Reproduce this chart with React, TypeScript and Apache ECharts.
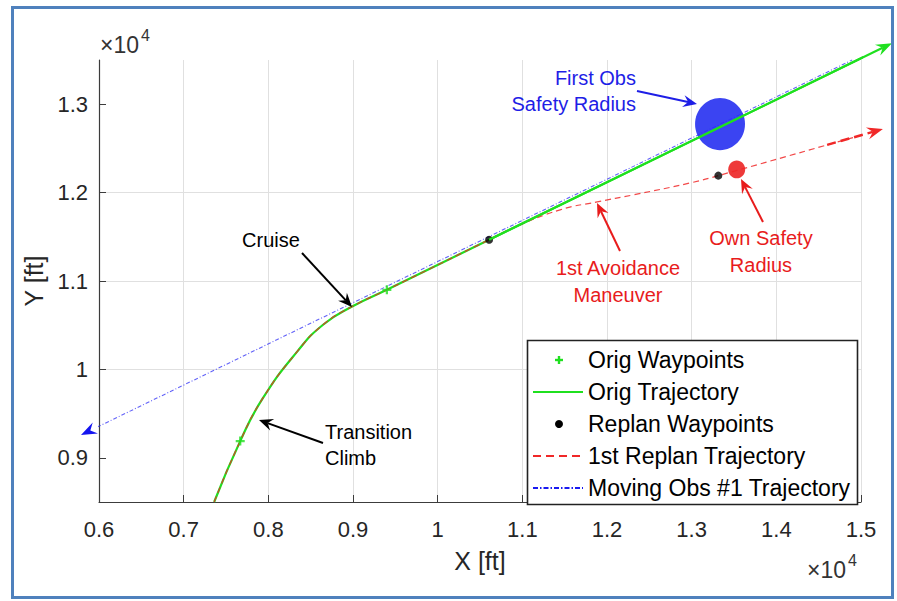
import React, { useEffect, useRef } from "react";
import * as echarts from "echarts";

const W = 897;
const H = 601;

// Flight paths in feet: [x, y]
const origTrajectory: [number, number][] = [
  [7360, 8500], [7668, 9189], [7928, 9663], [8343, 10204], [8650, 10508],
  [8990, 10711], [9400, 10900], [10608, 11467], [15366, 13690],
];
const replanTrajectory: [number, number][] = [
  [7360, 8500], [7668, 9189], [7928, 9663], [8343, 10204], [8650, 10508],
  [8990, 10711], [9400, 10900], [10608, 11467], [10915, 11610], [11447, 11805],
  [11884, 11895], [12309, 11974], [12982, 12109], [13315, 12192], [15259, 12719],
];
const movingObsTrajectory: [number, number][] = [
  [5787, 9258], [14896, 13500],
];
const origWaypoints: [number, number][] = [[7668, 9189], [9400, 10900]];
const replanWaypoints: [number, number][] = [[10608, 11467], [13315, 12192]];
// [centre x, centre y, radius] in feet
const firstObsSafety: [number, number, number][] = [[13335, 12775, 295]];
const ownSafety: [number, number, number][] = [[13532, 12262, 100]];

const yTicks = [9000, 10000, 11000, 12000, 13000];

const FONT = "'Liberation Sans', Arial, Helvetica, sans-serif";
const AX = "#262626";
const GREEN = "#1fe01f";
const RED = "#f02828";
const BLUE = "#2f2ff5";
const BLUE_TXT = "#1e1ee6";
const RED_TXT = "#e81c1c";

const legendItems = [
  { label: "Orig Waypoints", kind: "plus" },
  { label: "Orig Trajectory", kind: "solid" },
  { label: "Replan Waypoints", kind: "dot" },
  { label: "1st Replan Trajectory", kind: "dash" },
  { label: "Moving Obs #1 Trajectory", kind: "dashdot" },
];

const annotations = [
  { lines: ["First Obs", "Safety Radius"], x: 636, y: [78, 104], align: "right", color: BLUE_TXT, tail: [637, 91], tip: [697, 104] },
  { lines: ["Own Safety", "Radius"], x: 761, y: [238, 265], align: "center", color: RED_TXT, tail: [763, 222], tip: [741, 179] },
  { lines: ["1st Avoidance", "Maneuver"], x: 618, y: [268, 295], align: "center", color: RED_TXT, tail: [620, 251], tip: [597, 203] },
  { lines: ["Cruise"], x: 271, y: [240], align: "center", color: "#000", tail: [302, 253], tip: [352, 307] },
  { lines: ["Transition", "Climb"], x: 325, y: [432, 458], align: "left", color: "#000", tail: [323, 443], tip: [259, 420] },
];

const tickText = (v: number) => String(parseFloat((v / 1e4).toFixed(2)));

function textEl(text: string, x: number, y: number, size: number, color: string, align = "left", vAlign = "middle") {
  return {
    type: "text",
    z: 120,
    style: {
      text, x, y, fill: color,
      font: `${size}px ${FONT}`,
      align, textAlign: align,
      verticalAlign: vAlign, textVerticalAlign: vAlign,
    },
  };
}

function head(tail: number[], tip: number[], color: string, len = 14, half = 6) {
  const dx = tip[0] - tail[0];
  const dy = tip[1] - tail[1];
  const L = Math.hypot(dx, dy) || 1;
  const ux = dx / L, uy = dy / L;
  const nx = -uy, ny = ux;
  const notch = [tip[0] - ux * len * 0.65, tip[1] - uy * len * 0.65];
  const b1 = [tip[0] - ux * len + nx * half, tip[1] - uy * len + ny * half];
  const b2 = [tip[0] - ux * len - nx * half, tip[1] - uy * len - ny * half];
  return {
    notch,
    el: { type: "polygon", z: 110, shape: { points: [tip, b1, notch, b2] }, style: { fill: color } },
  };
}

function arrow(tail: number[], tip: number[], color: string, width = 2) {
  const h = head(tail, tip, color);
  return [
    { type: "line", z: 110, shape: { x1: tail[0], y1: tail[1], x2: h.notch[0], y2: h.notch[1] }, style: { stroke: color, lineWidth: width } },
    h.el,
  ];
}

const circleItem = (params: any, api: any) => {
  const c = api.coord([api.value(0), api.value(1)]);
  const r = api.value(2);
  const s = api.size([r, r]);
  return {
    type: "ellipse",
    shape: { cx: c[0], cy: c[1], rx: s[0], ry: s[1] },
    style: { fill: api.visual("color") },
  };
};

const option: any = {
  animation: false,
  backgroundColor: "#ffffff",
  grid: { left: 99, top: 60, width: 762, height: 442, containLabel: false },
  xAxis: {
    type: "value",
    min: 6000,
    max: 15000,
    interval: 1000,
    name: "X [ft]",
    nameLocation: "middle",
    nameGap: 46,
    nameTextStyle: { fontFamily: FONT, fontSize: 25, color: AX },
    axisLine: { show: true, onZero: false, lineStyle: { color: "#3c3c3c", width: 1.2 } },
    axisTick: { show: true, inside: true, length: 7, lineStyle: { color: "#3c3c3c" } },
    axisLabel: { formatter: tickText, fontFamily: FONT, fontSize: 22, color: AX, margin: 16 },
    splitLine: { show: true, lineStyle: { color: "#e0e0e0", width: 1 } },
  },
  yAxis: {
    type: "value",
    min: 8500,
    max: 13500,
    splitNumber: 5,
    name: "Y [ft]",
    nameLocation: "middle",
    nameRotate: 90,
    nameGap: 48,
    nameTextStyle: { fontFamily: FONT, fontSize: 25, color: AX },
    axisLine: { show: true, onZero: false, lineStyle: { color: "#3c3c3c", width: 1.2 } },
    axisTick: { show: true, inside: true, length: 7, customValues: yTicks, lineStyle: { color: "#3c3c3c" } },
    axisLabel: {
      customValues: yTicks,
      formatter: (v: number) => (v % 1000 === 0 ? tickText(v) : ""),
      fontFamily: FONT, fontSize: 22, color: AX, margin: 11,
    },
    splitLine: { show: true, showMinLine: false, showMaxLine: false, lineStyle: { color: "#e0e0e0", width: 1 } },
  },
  series: [
    {
      name: "First Obs Safety Radius", type: "custom", data: firstObsSafety,
      renderItem: circleItem, itemStyle: { color: "#3b44f2" }, z: 1, clip: false,
    },
    {
      name: "Own Safety Radius", type: "custom", data: ownSafety,
      renderItem: circleItem, itemStyle: { color: "#ee3a3a" }, z: 1, clip: false,
    },
    {
      name: "Orig Trajectory", type: "line", data: origTrajectory, showSymbol: false, symbol: "none",
      smooth: 0.5, clip: false, z: 3,
      lineStyle: { color: GREEN, width: 2.2 },
    },
    {
      name: "1st Replan Trajectory", type: "line", data: replanTrajectory, showSymbol: false, symbol: "none",
      smooth: 0.5, clip: false, z: 4,
      lineStyle: { color: RED, width: 1.2, type: [6, 4], opacity: 0.85 },
    },
    {
      name: "Moving Obs #1 Trajectory", type: "line", data: movingObsTrajectory, showSymbol: false, symbol: "none",
      clip: false, z: 5,
      lineStyle: { color: BLUE, width: 1.1, type: [4, 2, 1, 2], opacity: 0.75 },
    },
    {
      name: "Orig Waypoints", type: "scatter", data: origWaypoints, z: 6,
      symbol: "path://M3,0H5V3H8V5H5V8H3V5H0V3H3Z", symbolSize: 9,
      itemStyle: { color: GREEN },
    },
    {
      name: "Replan Waypoints", type: "scatter", data: replanWaypoints, z: 7,
      symbol: "circle", symbolSize: 8, itemStyle: { color: "#000" },
    },
  ],
};

export default function App() {
  const ref = useRef<HTMLDivElement>(null);

  useEffect(() => {
    const el = ref.current;
    if (!el) return;
    const chart = echarts.init(el, undefined, { renderer: "svg", width: W, height: H });
    chart.setOption(option);

    const px = (p: number[]) => chart.convertToPixel({ gridIndex: 0 }, p) as number[];
    const g: any[] = [];

    // outer frame
    g.push({ type: "rect", z: 130, shape: { x: 12.5, y: 7.5, width: 880, height: 590 }, style: { fill: "none", stroke: "#4f81bd", lineWidth: 3 } });

    // green path continues past the axes into its arrow head
    const o = origTrajectory;
    const gTip = px(o[o.length - 1]);
    const gFrom = px(o[o.length - 2]);
    const gh = head(gFrom, gTip, GREEN, 16, 6);
    g.push({ type: "line", z: 105, shape: { x1: gFrom[0], y1: gFrom[1], x2: gh.notch[0], y2: gh.notch[1] }, style: { stroke: GREEN, lineWidth: 2.2 } });
    g.push(gh.el);

    const r = replanTrajectory;
    const rTip = px(r[r.length - 1]);
    const rFrom = px(r[r.length - 2]);
    const rh = head(rFrom, rTip, RED, 16, 6);
    const rdx = rTip[0] - rFrom[0], rdy = rTip[1] - rFrom[1];
    const rl = Math.hypot(rdx, rdy);
    const rStart = [rTip[0] - (rdx / rl) * 58, rTip[1] - (rdy / rl) * 58];
    g.push({ type: "line", z: 110, shape: { x1: rStart[0], y1: rStart[1], x2: rh.notch[0], y2: rh.notch[1] }, style: { stroke: RED, lineWidth: 2.5, lineDash: [9, 5] } });
    g.push(rh.el);

    const m = movingObsTrajectory;
    g.push(head(px(m[1]), px(m[0]), "#1515f0", 16, 6).el);

    // annotations
    for (const a of annotations) {
      a.lines.forEach((t, i) => g.push(textEl(t, a.x, a.y[i], 20, a.color, a.align)));
      g.push(...arrow(a.tail, a.tip, a.color, 2));
    }

    // exponent labels
    g.push(textEl("\u00d710", 100, 45, 23, "#333", "left"));
    g.push(textEl("4", 141, 35, 16, "#333", "left"));
    g.push(textEl("\u00d710", 807, 570, 23, "#333", "left"));
    g.push(textEl("4", 848, 560, 16, "#333", "left"));

    // legend box
    g.push({ type: "rect", z: 100, shape: { x: 527.5, y: 340.5, width: 330, height: 164 }, style: { fill: "#fff", stroke: "#222", lineWidth: 1.6 } });
    legendItems.forEach((it, i) => {
      const y = 360 + i * 32;
      if (it.kind === "plus") {
        g.push({ type: "line", z: 101, shape: { x1: 555, y1: y, x2: 563, y2: y }, style: { stroke: GREEN, lineWidth: 2.4 } });
        g.push({ type: "line", z: 101, shape: { x1: 559, y1: y - 4, x2: 559, y2: y + 4 }, style: { stroke: GREEN, lineWidth: 2.4 } });
      } else if (it.kind === "dot") {
        g.push({ type: "circle", z: 101, shape: { cx: 559, cy: y, r: 4 }, style: { fill: "#000" } });
      } else {
        const style: any = { lineWidth: 2 };
        if (it.kind === "solid") style.stroke = GREEN;
        if (it.kind === "dash") { style.stroke = RED; style.lineDash = [8, 5]; }
        if (it.kind === "dashdot") { style.stroke = "#1a1af0"; style.lineDash = [5, 2, 1.5, 2]; }
        g.push({ type: "line", z: 101, shape: { x1: 533, y1: y, x2: 583, y2: y }, style });
      }
      g.push(textEl(it.label, 588, y, 23, "#000", "left"));
    });

    chart.setOption({ graphic: g });

    return () => chart.dispose();
  }, []);

  return (
    <div
      ref={ref}
      style={{ position: "fixed", left: 0, top: 0, width: W, height: H, background: "#fff" }}
    />
  );
}
